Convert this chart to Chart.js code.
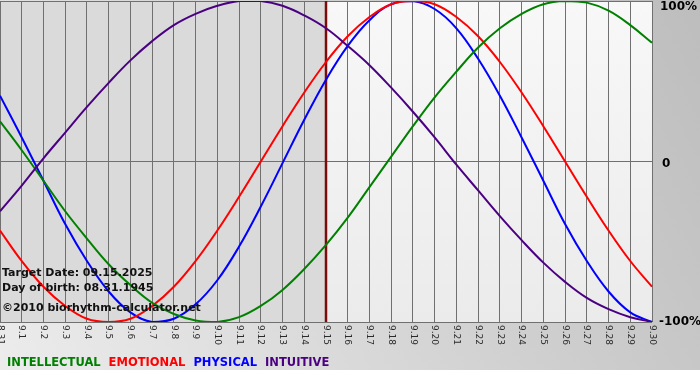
<!DOCTYPE html>
<html>
<head>
<meta charset="utf-8">
<script src="https://cdn.jsdelivr.net/npm/chart.js@4/dist/chart.umd.min.js"></script>
<style>
  html, body { margin: 0; padding: 0; background: #fff; }
  canvas { display: block; }
</style>
</head>
<body>
<canvas id="bioChart" width="700" height="380"></canvas>
<script>
// days shown on the x axis
var days = ['8.31', '9.1', '9.2', '9.3', '9.4', '9.5', '9.6', '9.7', '9.8', '9.9', '9.10',
  '9.11', '9.12', '9.13', '9.14', '9.15', '9.16', '9.17', '9.18', '9.19', '9.20',
  '9.21', '9.22', '9.23', '9.24', '9.25', '9.26', '9.27', '9.28', '9.29', '9.30'];

// values in percent
var intellectual = [25, 7, -12, -31, -48, -64, -77, -88, -95, -99, -100,
  -97, -90, -80, -67, -52, -35, -16, 3, 22, 40,
  56, 71, 83, 92, 98, 100, 99, 94, 85, 74];
var emotional = [-43, -62, -78, -90, -98, -100, -98, -90, -78, -62, -43,
  -22, 0, 22, 43, 62, 78, 90, 98, 100, 98,
  90, 78, 62, 43, 22, 0, -22, -43, -62, -78];
var physical = [41, 15, -12, -39, -62, -81, -94, -100, -98, -89, -74,
  -53, -28, -1, 26, 51, 72, 88, 98, 100, 95,
  83, 64, 41, 15, -12, -39, -62, -81, -94, -100];
var intuitive = [-31, -15, 2, 18, 34, 49, 63, 75, 85, 92, 97,
  100, 100, 97, 91, 83, 72, 60, 46, 31, 15,
  -2, -18, -34, -49, -63, -75, -85, -92, -97, -100];

var yTicks = ['-100%', '0', '100%'];
var targetDay = '9.15';
var infoLines = ['Target Date: 09.15.2025', 'Day of birth: 08.31.1945', '\u00a92010 biorhythm-calculator.net'];
var legendNames = ['INTELLECTUAL', 'EMOTIONAL', 'PHYSICAL', 'INTUITIVE'];
var legendColors = ['#008000', '#ff0000', '#0000ff', '#4b0082'];

var ctx = document.getElementById('bioChart').getContext('2d');

var bioDecor = {
  id: 'bioDecor',
  beforeDraw: function (chart) {
    var c = chart.ctx;
    var a = chart.chartArea;
    var xs = chart.scales.x;
    c.save();
    // outer background
    var g = c.createLinearGradient(0, 370, 700, 0);
    g.addColorStop(0, '#ececec');
    g.addColorStop(1, '#bdbdbd');
    c.fillStyle = g;
    c.fillRect(0, 0, 700, 370);
    c.fillStyle = '#ffffff';
    c.fillRect(0, 370, 700, 10);
    // plot background, past part darker
    var tx = xs.getPixelForValue(days.indexOf(targetDay));
    c.fillStyle = '#dadada';
    c.fillRect(a.left, a.top, tx - a.left, a.bottom - a.top);
    var g2 = c.createLinearGradient(0, a.top, 0, a.bottom);
    g2.addColorStop(0, '#f8f8f8');
    g2.addColorStop(1, '#ebebeb');
    c.fillStyle = g2;
    c.fillRect(tx, a.top, a.right - tx, a.bottom - a.top);
    c.restore();
  },
  beforeDatasetsDraw: function (chart) {
    var c = chart.ctx;
    var a = chart.chartArea;
    var tx = chart.scales.x.getPixelForValue(days.indexOf(targetDay));
    c.save();
    c.strokeStyle = '#7a0c0c';
    c.lineWidth = 2.5;
    c.beginPath();
    c.moveTo(tx, a.top);
    c.lineTo(tx, a.bottom);
    c.stroke();
    c.restore();
  },
  afterDraw: function (chart) {
    var c = chart.ctx;
    var a = chart.chartArea;
    var xs = chart.scales.x;
    var ys = chart.scales.y;
    c.save();
    // rotated day labels
    c.fillStyle = '#2a2a2a';
    c.font = '9px "DejaVu Sans"';
    c.textAlign = 'left';
    c.textBaseline = 'middle';
    days.forEach(function (d, i) {
      c.save();
      c.translate(xs.getPixelForValue(i), a.bottom + 3);
      c.rotate(Math.PI / 2);
      c.fillText(d, 0, 0);
      c.restore();
    });
    // right hand percent labels
    c.fillStyle = '#000000';
    c.font = 'bold 12px "DejaVu Sans"';
    c.textBaseline = 'middle';
    c.fillText(yTicks[2], a.right + 8, ys.getPixelForValue(100) + 6);
    c.fillText(yTicks[1], a.right + 10, ys.getPixelForValue(0) + 2);
    c.fillText(yTicks[0], a.right + 7, ys.getPixelForValue(-100));
    // info text
    c.fillStyle = '#111111';
    c.font = 'bold 11px "DejaVu Sans"';
    c.textBaseline = 'alphabetic';
    c.fillText(infoLines[0], 2, 276);
    c.fillText(infoLines[1], 2, 291);
    c.fillText(infoLines[2], 2, 311);
    // legend
    c.font = 'bold 11.5px "DejaVu Sans"';
    var lx = 7;
    legendNames.forEach(function (n, i) {
      c.fillStyle = legendColors[i];
      c.fillText(n, lx, 366);
      lx += c.measureText(n).width + 8;
    });
    c.restore();
  }
};

function series(label, data, color) {
  return {
    label: label,
    data: data,
    borderColor: color,
    borderWidth: 2,
    pointRadius: 0,
    tension: 0.4,
    fill: false
  };
}

var myChart = new Chart(ctx, {
  type: 'line',
  data: {
    labels: days,
    datasets: [
      series('INTUITIVE', intuitive, legendColors[3]),
      series('INTELLECTUAL', intellectual, legendColors[0]),
      series('EMOTIONAL', emotional, legendColors[1]),
      series('PHYSICAL', physical, legendColors[2])
    ]
  },
  options: {
    responsive: false,
    animation: false,
    devicePixelRatio: 1,
    layout: { padding: { left: 0, right: 48, top: 1, bottom: 58 } },
    plugins: { legend: { display: false }, tooltip: { enabled: false } },
    scales: {
      x: {
        offset: false,
        ticks: { display: false },
        border: { display: false },
        grid: { color: '#707070', lineWidth: 1, drawTicks: false }
      },
      y: {
        min: -100,
        max: 100,
        ticks: { display: false, stepSize: 100 },
        border: { display: false },
        grid: { color: '#707070', lineWidth: 1, drawTicks: false }
      }
    }
  },
  plugins: [bioDecor]
});
</script>
</body>
</html>
